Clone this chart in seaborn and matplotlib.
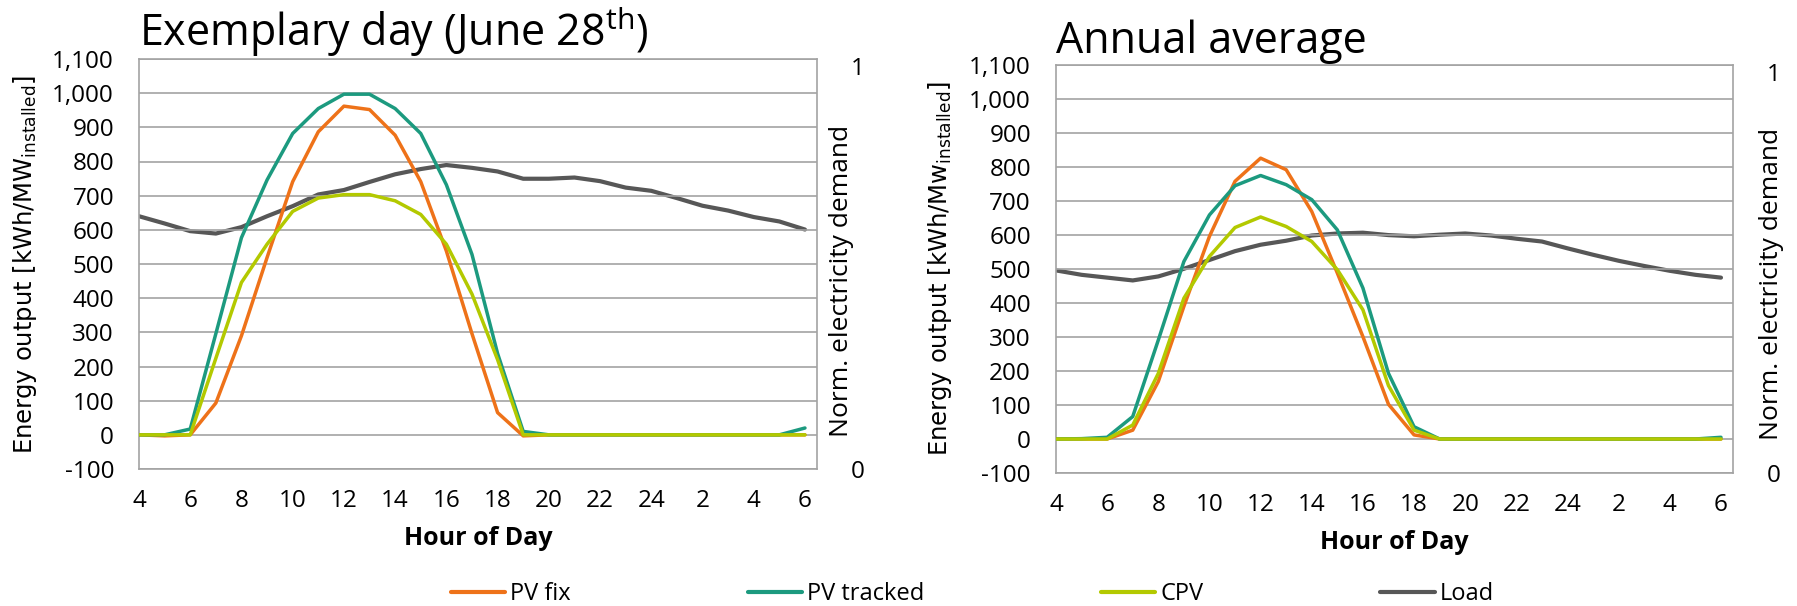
import numpy as np
import pandas as pd
import seaborn as sns
import matplotlib.pyplot as plt
from matplotlib.lines import Line2D
from matplotlib.ticker import FixedLocator, FuncFormatter

sns.set_style("white")
plt.rcParams['font.family'] = ['Open Sans', 'DejaVu Sans']
plt.rcParams['mathtext.fontset'] = 'custom'
plt.rcParams['mathtext.rm'] = 'DejaVu Sans'
for key in ['text.color', 'axes.labelcolor', 'xtick.color', 'ytick.color']:
    plt.rcParams[key] = 'black'

# hour of day, 4 h to 6 h of the following day
hour_of_day = [4, 5, 6, 7, 8, 9, 10, 11, 12, 13, 14, 15, 16, 17, 18, 19, 20,
               21, 22, 23, 24, 1, 2, 3, 4, 5, 6]

# exemplary day (June 28th), kWh/MW installed
june_pv_fix = [0, -3, 0, 93, 290, 519, 741, 887, 962, 952, 877, 741, 538, 296,
               65, -3, 0, 0, 0, 0, 0, 0, 0, 0, 0, 0, 0]
june_pv_tracked = [0, 0, 17, 296, 577, 746, 882, 955, 997, 997, 955, 882, 732,
                   528, 238, 10, 0, 0, 0, 0, 0, 0, 0, 0, 0, 0, 20]
june_cpv = [0, 0, 0, 224, 446, 558, 654, 693, 703, 703, 685, 645, 558, 412,
            220, 0, 0, 0, 0, 0, 0, 0, 0, 0, 0, 0, 0]
# normalised electricity demand (secondary axis)
june_load = [0.627, 0.609, 0.590, 0.584, 0.600, 0.627, 0.652, 0.681, 0.692,
             0.712, 0.731, 0.744, 0.754, 0.747, 0.738, 0.720, 0.720, 0.723,
             0.714, 0.698, 0.690, 0.672, 0.653, 0.641, 0.625, 0.614, 0.594]

# annual average
year_pv_fix = [0, 0, 0, 26, 169, 390, 596, 758, 826, 792, 669, 488, 301, 102,
               12, 0, 0, 0, 0, 0, 0, 0, 0, 0, 0, 0, 0]
year_pv_tracked = [0, 1, 5, 66, 291, 522, 659, 745, 775, 748, 704, 615, 444,
                   193, 36, 0, 0, 0, 0, 0, 0, 0, 0, 0, 0, 0, 5]
year_cpv = [0, 0, 0, 41, 193, 414, 537, 622, 653, 625, 581, 498, 380, 157, 26,
            0, 0, 0, 0, 0, 0, 0, 0, 0, 0, 0, 0]
year_load = [0.505, 0.494, 0.487, 0.480, 0.490, 0.509, 0.531, 0.553, 0.569,
             0.579, 0.592, 0.597, 0.599, 0.593, 0.590, 0.594, 0.597, 0.592,
             0.584, 0.577, 0.560, 0.544, 0.529, 0.516, 0.504, 0.494, 0.487]

series_names = ['PV fix', 'PV tracked', 'CPV', 'Load']
colors = {'PV fix': '#EE7219', 'PV tracked': '#1C9A7F', 'CPV': '#B3C900',
          'Load': '#575757'}

panels = [
    (r'Exemplary day (June 28$^{\mathregular{th}}$)',
     r'Energy output [kWh/MW$_{\mathregular{installed}}$]',
     june_pv_fix, june_pv_tracked, june_cpv, june_load),
    ('Annual average',
     r'Energy output [kWh/Mw$_{\mathregular{installed}}$]',
     year_pv_fix, year_pv_tracked, year_cpv, year_load),
]

W, H = 1797, 606
fig = plt.figure(figsize=(W / 100, H / 100), dpi=100)
# axes boxes in pixels: left, top, right, bottom
boxes = [(139, 59, 817, 469), (1056, 65, 1733, 473)]
ylabel_pos = [(25, 265, 842, 281), (940, 269, 1771, 284)]

grid_col = '#A3A3A3'
step = np.arange(len(hour_of_day))

for (l, t, r, b), (xl, yl, xr, yr), (title, ylab, pv_fix, pv_tr, cpv,
                                     load) in zip(boxes, ylabel_pos, panels):
    ax = fig.add_axes([l / W, (H - b) / H, (r - l) / W, (b - t) / H])
    df = pd.DataFrame({'step': step, 'PV fix': pv_fix,
                       'PV tracked': pv_tr, 'CPV': cpv})
    for name in ['PV fix', 'PV tracked', 'CPV']:
        sns.lineplot(data=df, x='step', y=name, ax=ax, color=colors[name],
                     linewidth=2.5, zorder=3 + series_names.index(name))
    ax.set_xlim(0, len(step) - 0.53)
    ax.set_ylim(-100, 1100)
    ax.set_yticks(np.arange(-100, 1101, 100))
    ax.yaxis.set_major_formatter(FuncFormatter(lambda v, p: f'{int(v):,}'))
    ax.yaxis.grid(True, color=grid_col, linewidth=1.2)
    ax.xaxis.grid(False)
    ax.set_axisbelow(True)
    for sp in ax.spines.values():
        sp.set_color(grid_col)
        sp.set_linewidth(1.2)

    ax.xaxis.set_major_locator(FixedLocator(step[::2]))
    ax.set_xticklabels([str(h) for h in hour_of_day[::2]])
    ax.xaxis.set_minor_locator(FixedLocator(step))
    ax.tick_params(axis='x', which='both', direction='in', length=5,
                   color=grid_col, width=1.2, pad=14.5, labelsize=17.5)
    ax.tick_params(axis='y', length=0, pad=18, labelsize=17.5)

    ax.set_xlabel('Hour of Day', fontsize=18, fontweight='bold', labelpad=9)
    ax.set_ylabel('')
    ax.set_title(title, loc='left', fontsize=31, pad=9)
    fig.text(xl / W, 1 - yl / H, ylab, rotation=90, ha='center',
             va='center', fontsize=17.5, family='DejaVu Sans')

    ax2 = ax.twinx()
    sns.lineplot(x=step, y=load, ax=ax2, color=colors['Load'], linewidth=3,
                 zorder=2)
    ax2.set_yticks([0, 1])
    ax2.set_yticklabels(['0', '1'])
    ax2.set_ylim(0, 1.017)
    ax2.tick_params(axis='y', length=0, pad=24, labelsize=17.5)
    ax2.set_ylabel('')
    fig.text(xr / W, 1 - yr / H, 'Norm. electricity demand',
             rotation=90, ha='center', va='center', fontsize=19)
    for sp in ax2.spines.values():
        sp.set_visible(False)
    ax.set_zorder(ax2.get_zorder() + 1)
    ax.patch.set_visible(False)

handles = [Line2D([], [], color=colors[n], linewidth=3) for n in series_names]
fig.legend(handles, series_names, loc='center', ncol=4,
           bbox_to_anchor=(0.541, 0.02), frameon=False,
           handlelength=2.3, handletextpad=0.2, columnspacing=7.5,
           prop={'size': 17})

fig.savefig('out.png', dpi=100)
